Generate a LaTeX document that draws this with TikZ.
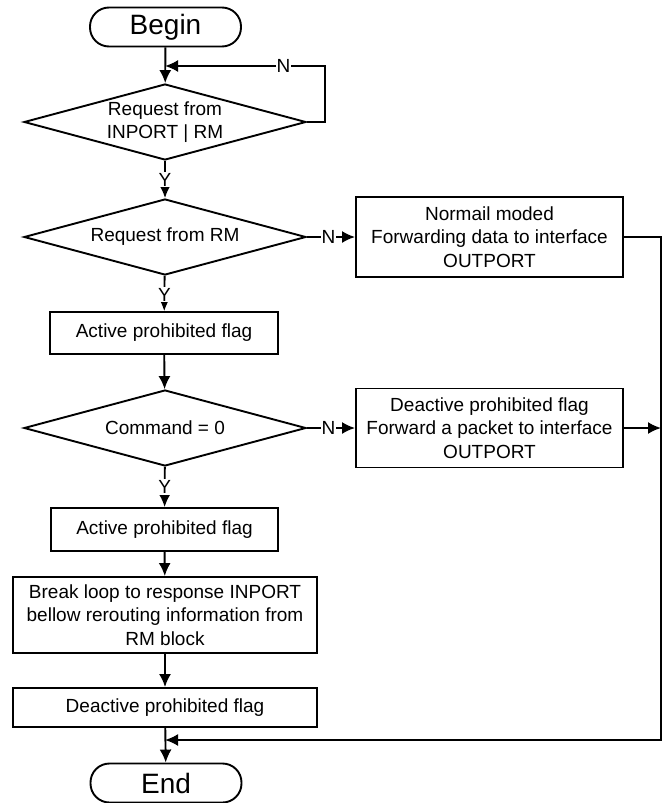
\documentclass[tikz,border=0pt]{standalone}
\usepackage{fontspec}
\setmainfont{Liberation Sans}
\usetikzlibrary{arrows.meta}
\usetikzlibrary{shapes.geometric}

\tikzset{
  terminal/.style={draw, line width=1.9pt, rounded corners=19pt, minimum width=151pt, minimum height=39pt, font=\fontsize{28}{31}\selectfont},
  decision/.style={draw, diamond, line width=1.9pt, minimum width=282pt, minimum height=76pt, inner sep=0pt},
  process/.style={draw, line width=1.9pt, align=center, inner sep=2pt},
  yn/.style={fill=white, inner sep=1pt}
}

\begin{document}
\begin{tikzpicture}[x=1pt, y=-1pt, line width=1.9pt, >={Latex[length=13pt,width=12pt]},
  font=\fontsize{19}{23.3}\selectfont]
\useasboundingbox (0,0) rectangle (665,803);
\node[terminal] (begin) at (165.5,27) {Begin};
\node[decision, label={[align=center]center:Request from\\INPORT | RM}] (d1) at (165,122) {};
\node[decision, label={center:Request from RM}] (d2) at (165,237) {};
\node[process, minimum width=267pt, minimum height=80pt] (normal) at (489.5,237)
  {Normail moded\\Forwarding data to interface\\OUTPORT};
\node[process, minimum width=228pt, minimum height=42pt] (act1) at (164,333) {Active prohibited flag};
\node[decision, label={center:Command = 0}] (d3) at (165,428) {};
\node[process, minimum width=267pt, minimum height=79pt] (fwd) at (489.5,428)
  {Deactive prohibited flag\\Forward a packet to interface\\OUTPORT};
\node[process, minimum width=227pt, minimum height=43pt] (act2) at (164.5,529.5) {Active prohibited flag};
\node[process, minimum width=304pt, minimum height=76pt] (brk) at (165,615)
  {Break loop to response INPORT\\bellow rerouting information from\\RM block};
\node[process, minimum width=304pt, minimum height=39pt] (deact) at (165,707.5) {Deactive prohibited flag};
\node[terminal] (end) at (166,783) {End};

\coordinate (loopr) at (325,66);
\coordinate (loopin) at (165,66);
\coordinate (rtop) at (661,237);
\coordinate (rbot) at (661,740);
\coordinate (join) at (165,740);

% main line
\draw[->] (begin) -- (d1);
\draw[->] (d1) -- node[yn, pos=.51]{Y} (d2);
\draw[->] (d2) -- node[yn, pos=.54]{Y} (act1);
\draw[->] (act1) -- (d3);
\draw[->] (d3) -- node[yn, pos=.5]{Y} (act2);
\draw[->] (act2) -- (brk);
\draw[->] (brk) -- (deact);
\draw[->] (deact) -- (end);

% N branches
\draw[->] (d1.east) -| (loopr) -- node[yn, pos=.26]{N} (loopin);
\draw[->] (d2.east) -- node[yn, pos=.45]{N} (normal.west);
\draw[->] (d3.east) -- node[yn, pos=.45]{N} (fwd.west);
\draw[->] (normal.east) -- (rtop) -- (rbot) -- (join);
\draw[->] (fwd.east) -- (fwd.east -| rtop);
\end{tikzpicture}
\end{document}
